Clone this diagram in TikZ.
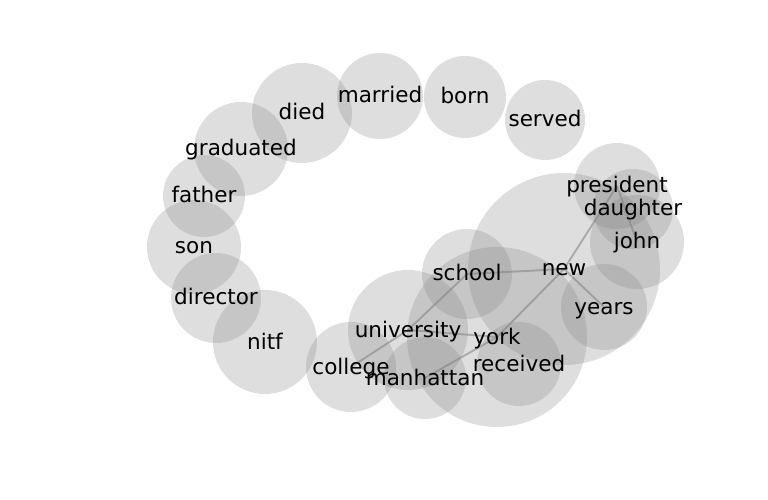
\documentclass[tikz,border=0pt]{standalone}
\usepackage{fontspec}
\setmainfont{DejaVu Sans}
\tikzset{
  blob/.style={circle, draw=none, fill=gray, fill opacity=0.26, inner sep=0pt, minimum size=#1},
  word/.style={inner sep=0pt, text height=16bp, text depth=2bp, font=\fontsize{21.6}{24}\selectfont, text=black},
  link/.style={draw=gray, draw opacity=0.55, line width=1.9bp},
}
\begin{document}
\begin{tikzpicture}[x=1bp,y=-1bp]
\useasboundingbox (0,0) rectangle (768,500);
% circles
\node[blob=86bp] (c-married) at (380,96) {};
\node[blob=82bp] (c-born) at (465,97) {};
\node[blob=80bp] (c-served) at (545,120) {};
\node[blob=100bp] (c-died) at (302,113) {};
\node[blob=94bp] (c-graduated) at (241,149) {};
\node[blob=82bp] (c-father) at (204,196) {};
\node[blob=94bp] (c-son) at (194,247) {};
\node[blob=90bp] (c-director) at (216,298) {};
\node[blob=104bp] (c-nitf) at (265,342) {};
\node[blob=90bp] (c-college) at (351,367) {};
\node[blob=82bp] (c-manhattan) at (425,378) {};
\node[blob=120bp] (c-university) at (408,330) {};
\node[blob=90bp] (c-school) at (467,274) {};
\node[blob=180bp] (c-york) at (497,337) {};
\node[blob=192bp] (c-new) at (564,269) {};
\node[blob=84bp] (c-received) at (519,364) {};
\node[blob=86bp] (c-years) at (604,307) {};
\node[blob=86bp] (c-president) at (617,186) {};
\node[blob=80bp] (c-daughter) at (633,209) {};
\node[blob=94bp] (c-john) at (637,242) {};
% edges
\draw[link] (c-school.center) -- (c-new.center);
\draw[link] (c-new.center) -- (c-president.center);
\draw[link] (c-president.center) -- (c-john.center);
\draw[link] (c-new.center) -- (c-years.center);
\draw[link] (c-new.center) -- (c-york.center);
\draw[link] (c-york.center) -- (c-manhattan.center);
\draw[link] (c-university.center) -- (c-york.center);
\draw[link] (c-school.center) -- (c-university.center);
\draw[link] (c-university.center) -- (c-college.center);
% labels
\node[word] (married) at (c-married) {married};
\node[word] (born) at (c-born) {born};
\node[word] (served) at (c-served) {served};
\node[word] (died) at (c-died) {died};
\node[word] (graduated) at (c-graduated) {graduated};
\node[word] (father) at (c-father) {father};
\node[word] (son) at (c-son) {son};
\node[word] (director) at (c-director) {director};
\node[word] (nitf) at (c-nitf) {nitf};
\node[word] (college) at (c-college) {college};
\node[word] (manhattan) at (c-manhattan) {manhattan};
\node[word] (university) at (c-university) {university};
\node[word] (school) at (c-school) {school};
\node[word] (york) at (c-york) {york};
\node[word] (new) at (c-new) {new};
\node[word] (received) at (c-received) {received};
\node[word] (years) at (c-years) {years};
\node[word] (president) at (c-president) {president};
\node[word] (daughter) at (c-daughter) {daughter};
\node[word] (john) at (c-john) {john};
\end{tikzpicture}
\end{document}
